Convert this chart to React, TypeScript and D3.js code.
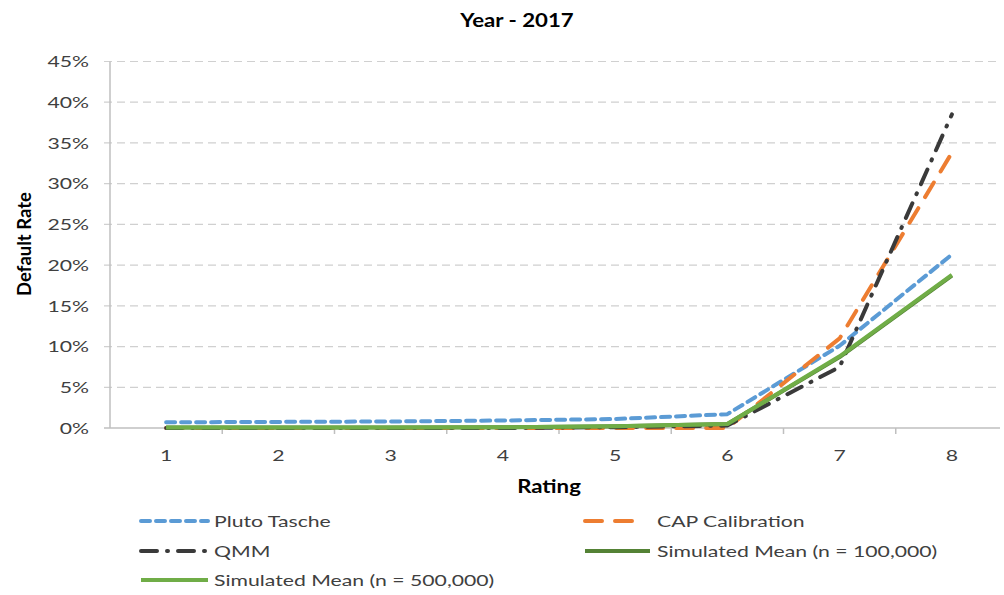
import React from 'react';
import * as d3 from 'd3';

const ratings = ['1', '2', '3', '4', '5', '6', '7', '8'];
const yTicks = [0, 0.05, 0.1, 0.15, 0.2, 0.25, 0.3, 0.35, 0.4, 0.45];

const plutoTasche = [0.007, 0.0075, 0.008, 0.0092, 0.011, 0.017, 0.101, 0.213];
const capCalibration = [0, 0, 0, 0, 0, 0, 0.11, 0.338];
const qmm = [0, 0, 0, 0, 0.001, 0.003, 0.075, 0.385];
const simMean100k = [0.0005, 0.0005, 0.0007, 0.001, 0.002, 0.005, 0.087, 0.187];
const simMean500k = [0.0005, 0.0005, 0.0007, 0.001, 0.002, 0.005, 0.088, 0.188];

const series = [
  { name: 'Pluto Tasche', values: plutoTasche, color: '#5b9bd5', dash: '9,6', cap: 'round' },
  { name: 'CAP Calibration', values: capCalibration, color: '#ed7d31', dash: '17,13', cap: 'round' },
  { name: 'QMM', values: qmm, color: '#3a3a3a', dash: '16,10,1,10', cap: 'round' },
  { name: 'Simulated Mean (n = 100,000)', values: simMean100k, color: '#548235', dash: null, cap: 'butt' },
  { name: 'Simulated Mean (n = 500,000)', values: simMean500k, color: '#70ad47', dash: null, cap: 'butt' },
];

// legend slots (sample start, row, sample length, text start)
const legendPos = [
  { x: 141, y: 521, len: 67, tx: 214 },
  { x: 585, y: 521, len: 55, tx: 657 },
  { x: 141, y: 551, len: 67, tx: 214 },
  { x: 585, y: 551, len: 65, tx: 657 },
  { x: 141, y: 580, len: 67, tx: 214 },
];

const W = 1004;
const H = 595;
const left = 110;
const right = 1000;
const top = 61.5;
const bottom = 428;
const font = 'Lato, "Open Sans", sans-serif';

// the reference text is stretched sideways, so we scale x a bit
const Label = ({ x, y, children, anchor = 'start', bold = false, size = 16.2, sx = 1.31, fill = '#404040' }: any) => (
  <text
    transform={`translate(${x},${y}) scale(${sx},1)`}
    textAnchor={anchor}
    fontFamily={font}
    fontWeight={bold ? 'bold' : 'normal'}
    fontSize={size}
    fill={fill}
  >
    {children}
  </text>
);

const App = () => {
  const x = d3.scaleBand().domain(ratings).range([left, 1008]);
  const y = d3.scaleLinear().domain([0, 0.45]).range([bottom, top]);
  const cx = (r: string) => (x(r) as number) + x.bandwidth() / 2;

  const line = d3.line<number>()
    .x((d, i) => cx(ratings[i]))
    .y(d => y(d));

  return (
    <>
      <style>{`body{margin:0}`}</style>
      <svg width={W} height={H} style={{ display: 'block', background: '#fff' }}>
        <Label x={517} y={27} anchor="middle" bold size={18.5} sx={1.2} fill="#000">Year - 2017</Label>

        {yTicks.map(t => (
          <g key={t}>
            {t > 0 && (
              <line x1={left - 6} x2={right} y1={y(t)} y2={y(t)} stroke="#d0d0d0" strokeWidth={1.2} strokeDasharray="8,5" />
            )}
            <Label x={89} y={y(t) + 5.8} anchor="end">{`${Math.round(t * 100)}%`}</Label>
          </g>
        ))}

        <line x1={left} x2={left} y1={top} y2={bottom} stroke="#bfbfbf" strokeWidth={1.5} />
        <line x1={left - 6} x2={right} y1={bottom} y2={bottom} stroke="#bfbfbf" strokeWidth={1.5} />
        {ratings.slice(1).map(r => (
          <line key={r} x1={x(r) as number} x2={x(r) as number} y1={bottom} y2={bottom + 6} stroke="#bfbfbf" strokeWidth={1.5} />
        ))}
        {ratings.map(r => (
          <Label key={r} x={cx(r)} y={461} anchor="middle">{r}</Label>
        ))}

        <Label x={549} y={493} anchor="middle" bold size={18.5} sx={1.2} fill="#000">Rating</Label>
        <text
          transform={`translate(31,${244}) rotate(-90)`}
          textAnchor="middle"
          fontFamily={font}
          fontWeight="bold"
          fontSize={18.5}
          fill="#000"
        >
          Default Rate
        </text>

        {series.map(s => (
          <path
            key={s.name}
            d={line(s.values) || ''}
            fill="none"
            stroke={s.color}
            strokeWidth={4}
            strokeDasharray={s.dash || undefined}
            strokeLinecap={s.cap as any}
            strokeLinejoin="round"
          />
        ))}

        {series.map((s, i) => {
          const p = legendPos[i];
          return (
            <g key={s.name}>
              <line
                x1={p.x}
                x2={p.x + p.len}
                y1={p.y}
                y2={p.y}
                stroke={s.color}
                strokeWidth={4}
                strokeDasharray={s.dash || undefined}
                strokeLinecap={s.cap as any}
              />
              <Label x={p.tx} y={p.y + 6}>{s.name}</Label>
            </g>
          );
        })}
      </svg>
    </>
  );
};

export default App;
